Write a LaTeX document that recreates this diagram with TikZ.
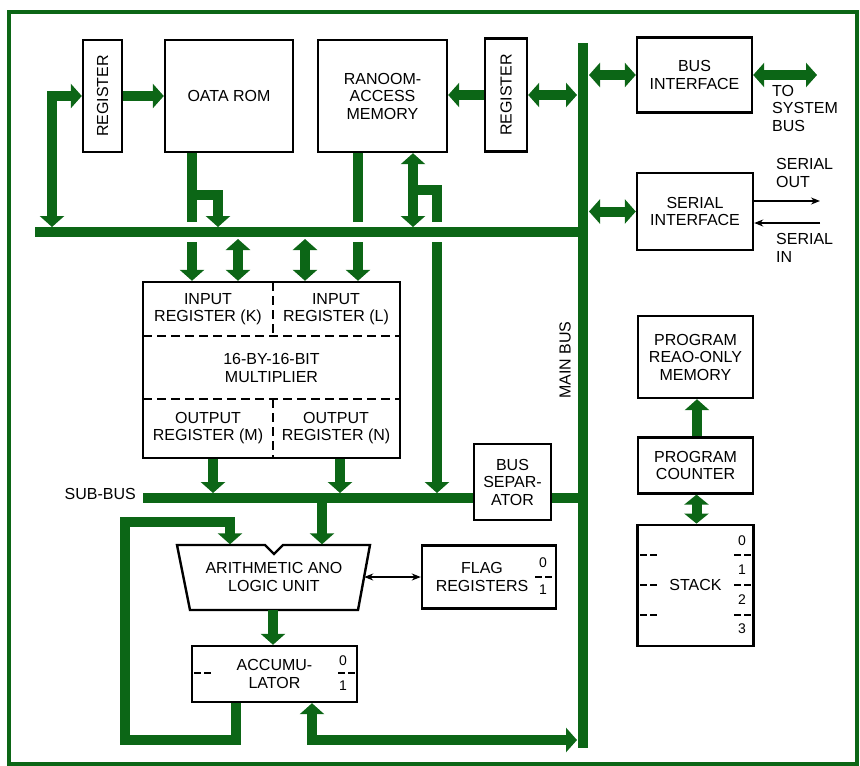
\documentclass[tikz,border=0pt]{standalone}
\usepackage{fontspec}
\setmainfont{Liberation Sans}
\usetikzlibrary{arrows.meta, positioning}
\definecolor{busgreen}{RGB}{12,102,22}
\newcommand{\boxfont}{\fontsize{16}{17.5}\selectfont}
\newcommand{\numfont}{\fontsize{14}{15}\selectfont}

\begin{document}
\begin{tikzpicture}[
    x=1pt, y=-1pt,
    box/.style={rectangle, draw, line width=2.4pt, inner sep=0pt, align=center, font=\boxfont},
    txt/.style={inner sep=0pt, align=center, font=\boxfont},
    num/.style={inner sep=0pt, font=\numfont},
    bus/.style={draw=busgreen, line width=10pt, line join=miter, >={Triangle[length=11pt, width=24pt]}},
    casing/.style={draw=white, line width=20pt},
    wire/.style={draw=black, line width=1.3pt, >={Stealth[length=9pt, width=7pt]}},
    divider/.style={line width=2pt, dash pattern=on 9pt off 5pt},
    tick/.style={line width=1.6pt, dash pattern=on 7pt off 3pt},
]
\useasboundingbox (0,0) rectangle (860,766);

% Frame
\draw[draw=busgreen, line width=4pt] (9,12) rectangle (857,764);

% Nodes
\node[box, minimum width=39pt, minimum height=112pt] (reg1) at (102.5,96) {\rotatebox{90}{REGISTER}};
\node[box, minimum width=128pt, minimum height=112pt] (rom) at (229,96) {OATA ROM};
\node[box, minimum width=129pt, minimum height=112pt] (ram) at (382.5,96) {RANOOM-\\ACCESS\\MEMORY};
\node[box, minimum width=42pt, minimum height=113pt] (reg2) at (506,95) {\rotatebox{90}{REGISTER}};
\node[box, minimum width=115pt, minimum height=75pt] (busif) at (694.5,75) {BUS\\INTERFACE};
\node[box, minimum width=116pt, minimum height=77pt] (serif) at (695,211.5) {SERIAL\\INTERFACE};

\node[box, minimum width=257pt, minimum height=176pt] (mult) at (271.5,370) {};
\node[txt] (ink) at (208,309) {INPUT\\REGISTER (K)};
\node[txt] (inl) at (336,309) {INPUT\\REGISTER (L)};
\node[txt] (mul) at (271.5,368) {16-BY-16-BIT\\MULTIPLIER};
\node[txt] (outm) at (208,428) {OUTPUT\\REGISTER (M)};
\node[txt] (outn) at (336,428) {OUTPUT\\REGISTER (N)};

\node[box, minimum width=77pt, minimum height=76pt] (sep) at (512.5,482) {BUS\\SEPAR-\\ATOR};

\draw[line width=2.4pt, line join=miter] (177,545) -- (265,545) -- (274,554) -- (283,545) -- (370,545) -- (358,610) -- (190,610) -- cycle;
\node[txt, minimum width=180pt, minimum height=65pt] (alu) at (274,577) {ARITHMETIC ANO\\LOGIC UNIT};
\node[box, minimum width=165pt, minimum height=56pt] (acc) at (274.5,674) {ACCUMU-\\LATOR};
\node[box, minimum width=134pt, minimum height=63pt] (flag) at (489,577) {};
\node[txt] (flagtxt) at (482,577) {FLAG\\REGISTERS};

\node[box, minimum width=115pt, minimum height=82pt] (prom) at (695.5,357) {PROGRAM\\REAO-ONLY\\MEMORY};
\node[box, minimum width=115pt, minimum height=56pt, below=37pt of prom] (pc) {PROGRAM\\COUNTER};
\node[box, minimum width=116pt, minimum height=121pt, below=29pt of pc] (stack) {STACK};

% Labels
\node[txt, anchor=east] (subbus) at (136,494) {SUB-BUS};
\node[txt, rotate=90] (mainbus) at (565,360) {MAIN BUS};
\node[txt, align=left, anchor=west] (tosys) at (772,108) {TO\\SYSTEM\\BUS};
\node[txt, align=left, anchor=west] (serout) at (776,173) {SERIAL\\OUT};
\node[txt, align=left, anchor=west] (serin) at (776,248) {SERIAL\\IN};

% Register fields
\draw[divider] (143,336) -- (400,336);
\draw[divider] (143,399) -- (400,399);
\draw[divider] (273,282) -- (273,336);
\draw[divider] (273,399) -- (273,458);
\node[num] (acc0) at (343,661) {0};
\node[num] (acc1) at (343,686) {1};
\draw[tick] (338,673) -- (356,673);
\draw[tick] (194,673) -- (212,673);
\node[num] (flag0) at (543,563) {0};
\node[num] (flag1) at (543,590) {1};
\draw[tick] (535,577) -- (555,577);
\foreach \n/\y in {0/541,1/570,2/600,3/629}
    \node[num] at (742,\y) {\n};
\foreach \y in {555,585,615} {
    \draw[tick] (734,\y) -- (752,\y);
    \draw[tick] (640,\y) -- (658,\y);
}

% Bus taps
\coordinate (tbl) at (35,232);
\coordinate (mbtop) at (583,43);
\coordinate (mbbot) at (583,748);
\coordinate (mbl) at (577,43);
\coordinate (mbr) at (589,43);
\coordinate (sbl) at (143,498);
\coordinate (subtop) at (143,493);
\coordinate (reg1in) at (52,227);
\coordinate (rombr) at (192,195);
\coordinate (romin) at (218,227);
\coordinate (rambr) at (413,190);
\coordinate (ramin) at (413,227);
\coordinate (sepin) at (437,493);
\coordinate (k1) at (238,239);
\coordinate (k2) at (305,239);
\coordinate (loopa) at (125,740);
\coordinate (loopb) at (125,522);
\coordinate (accret) at (577,740);
\coordinate (sysbus) at (817,77);
\coordinate (sout) at (820,201);
\coordinate (sin) at (820,223);

% Lines passing under the top bus
\draw[bus, ->] ([xshift=-37pt]rom.south) -- ([xshift=-37pt]rom.south |- mult.north);
\draw[bus, ->] ([xshift=-24.5pt]ram.south) -- ([xshift=-24.5pt]ram.south |- mult.north);
\draw[bus, ->] (rambr) -| (sepin);
\draw[casing] (tbl) -- (tbl -| mbtop);

% Buses
\draw[bus] (tbl) -- (tbl -| mbtop);
\draw[bus] (mbtop) -- (mbbot);
\draw[bus] (sbl) -- (sbl -| sep.west);
\draw[bus] (sbl -| sep.east) -- (sbl -| mbtop);

% Arrows
\draw[bus, <->] (reg1.west) -| (reg1in);
\draw[bus, ->] (reg1.east) -- (rom.west);
\draw[bus, ->] (rombr) -| (romin);
\draw[bus, <->] ([xshift=30.5pt]ram.south) -- (ramin);
\draw[bus, <->] (k1) -- (k1 |- mult.north);
\draw[bus, <->] (k2) -- (k2 |- mult.north);
\draw[bus, ->] (reg2.west) -- (ram.east |- reg2.west);
\draw[bus, <->] (reg2.east) -- (reg2.east -| mbl);
\draw[bus, <->] (busif.west -| mbr) -- (busif.west);
\draw[bus, <->] (serif.west -| mbr) -- (serif.west);
\draw[bus, <->] (busif.east) -- (busif.east -| sysbus);
\draw[wire, ->] (serif.east |- sout) -- (sout);
\draw[wire, ->] (sin) -- (serif.east |- sin);

\draw[bus, ->] ([xshift=-58.5pt]mult.south) -- ([xshift=-58.5pt]mult.south |- subtop);
\draw[bus, ->] ([xshift=68.5pt]mult.south) -- ([xshift=68.5pt]mult.south |- subtop);
\draw[bus, ->] ([xshift=48pt]alu.north |- sbl) -- ([xshift=48pt]alu.north);
\draw[bus, ->] ([xshift=-1pt]alu.south) -- ([xshift=-1.5pt]acc.north);
\draw[bus, ->] ([xshift=-38.5pt]acc.south) |- (loopa) -- (loopb) -| ([xshift=-44pt]alu.north);
\draw[bus, <->] ([xshift=37.5pt]acc.south) |- (accret);
\draw[wire, <->] (alu.east) -- (flag.west);

\draw[bus, ->] ([xshift=1.5pt]pc.north) -- ([xshift=1.5pt]prom.south);
\draw[bus, <->, >={Triangle[length=10pt, width=24pt]}] ([xshift=1pt]stack.north) -- ([xshift=1pt]pc.south);

\end{tikzpicture}
\end{document}
